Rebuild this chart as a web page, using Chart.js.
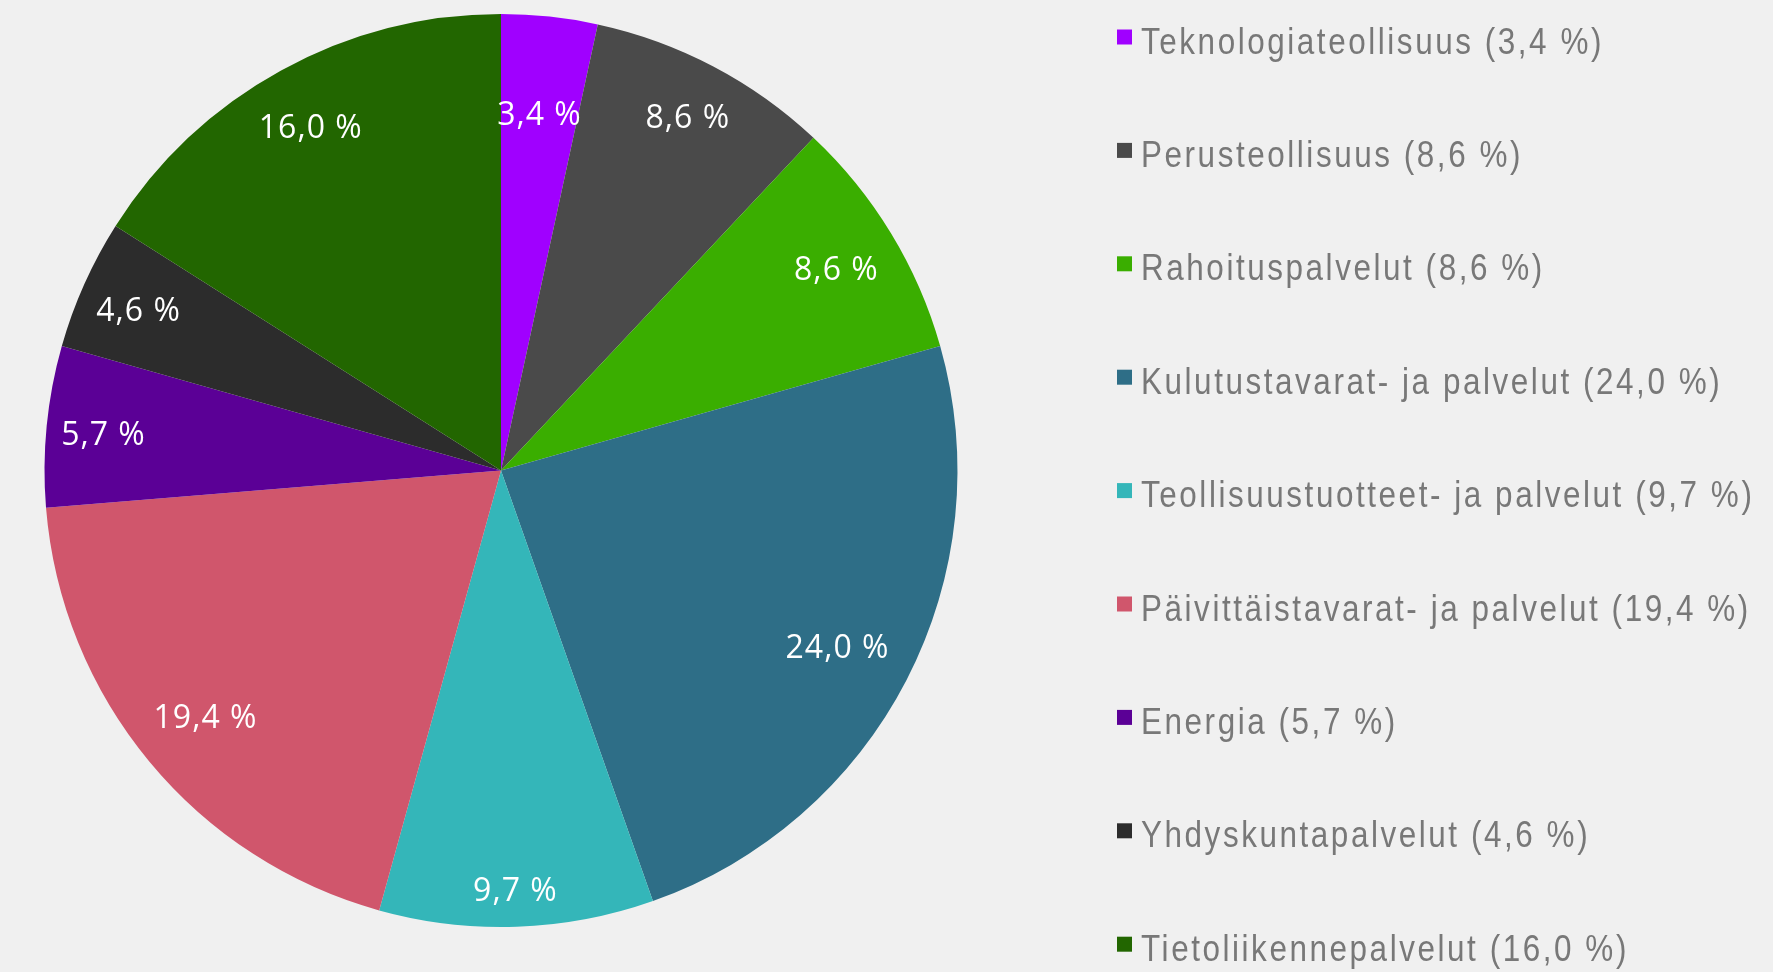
<!DOCTYPE html>
<html>
<head>
<meta charset="utf-8">
<title>Toimialajakauma</title>
<script src="https://cdn.jsdelivr.net/npm/chart.js@4/dist/chart.umd.min.js"></script>
<style>
  html, body { margin: 0; padding: 0; background: #f0f0f0; }
  #wrap { width: 1773px; height: 972px; }
</style>
</head>
<body>
<div id="wrap"><canvas id="pie" width="1773" height="972"></canvas></div>
<script>
// Sectors in clockwise order from 12 o'clock
const sectors = [
  "Teknologiateollisuus",
  "Perusteollisuus",
  "Rahoituspalvelut",
  "Kulutustavarat- ja palvelut",
  "Teollisuustuotteet- ja palvelut",
  "Päivittäistavarat- ja palvelut",
  "Energia",
  "Yhdyskuntapalvelut",
  "Tietoliikennepalvelut",
];
const shares = [3.4, 8.6, 8.6, 24.0, 9.7, 19.4, 5.7, 4.6, 16.0];
const sectorColors = [
  "#a000ff", "#4a4a4a", "#3aae00", "#2e6e87", "#34b6b9",
  "#d0566c", "#5b0096", "#2c2c2c", "#226600",
];
// how far out (share of radius) each slice label sits, "best fit" style
const labelRadius = [0.79, 0.88, 0.86, 0.83, 0.915, 0.84, 0.875, 0.87, 0.865];

const pct = (v) => `${v.toFixed(1).replace(".", ",")} %`;

// white percentage labels inside the slices
const sliceLabels = {
  id: "sliceLabels",
  afterDatasetsDraw(chart) {
    const { ctx } = chart;
    const meta = chart.getDatasetMeta(0);
    ctx.save();
    ctx.font = "32px 'Open Sans', 'Noto Sans', sans-serif";
    ctx.letterSpacing = "1px";
    ctx.fillStyle = "#ffffff";
    ctx.textAlign = "center";
    ctx.textBaseline = "middle";
    meta.data.forEach((arc, i) => {
      const { x, y, startAngle, endAngle, outerRadius } = arc.getProps(
        ["x", "y", "startAngle", "endAngle", "outerRadius"], true);
      const mid = (startAngle + endAngle) / 2;
      const r = outerRadius * labelRadius[i];
      ctx.fillText(pct(chart.data.datasets[0].data[i]),
        x + Math.cos(mid) * r, y + Math.sin(mid) * r + 4);
    });
    ctx.restore();
  },
};

// legend on the right, one item per row (condensed look via x-scale)
const sideLegend = {
  id: "sideLegend",
  afterDraw(chart) {
    const { ctx } = chart;
    const ds = chart.data.datasets[0];
    chart.data.labels.forEach((label, i) => {
      const top = 29.5 + i * 113.4;
      ctx.save();
      ctx.fillStyle = ds.backgroundColor[i];
      ctx.fillRect(1117, top, 15, 15);
      ctx.translate(1141, top + 24);
      ctx.scale(0.85, 1);
      ctx.font = "37px 'Liberation Sans', Arial, sans-serif";
      ctx.letterSpacing = "3px";
      ctx.textAlign = "left";
      ctx.textBaseline = "alphabetic";
      ctx.fillStyle = "#787878";
      ctx.fillText(`${label} (${pct(ds.data[i])})`, 0, 0);
      ctx.restore();
    });
  },
};

const background = {
  id: "background",
  beforeDraw(chart) {
    const { ctx, width, height } = chart;
    ctx.save();
    ctx.fillStyle = "#f0f0f0";
    ctx.fillRect(0, 0, width, height);
    ctx.restore();
  },
};

new Chart(document.getElementById("pie"), {
  type: "pie",
  data: {
    labels: sectors,
    datasets: [
      {
        data: shares,
        backgroundColor: sectorColors,
        borderWidth: 0,
      },
    ],
  },
  options: {
    responsive: false,
    animation: false,
    layout: { padding: { left: 44, right: 815, top: 14, bottom: 45 } },
    plugins: {
      legend: { display: false },
      tooltip: { enabled: false },
    },
  },
  plugins: [background, sliceLabels, sideLegend],
});
</script>
</body>
</html>
